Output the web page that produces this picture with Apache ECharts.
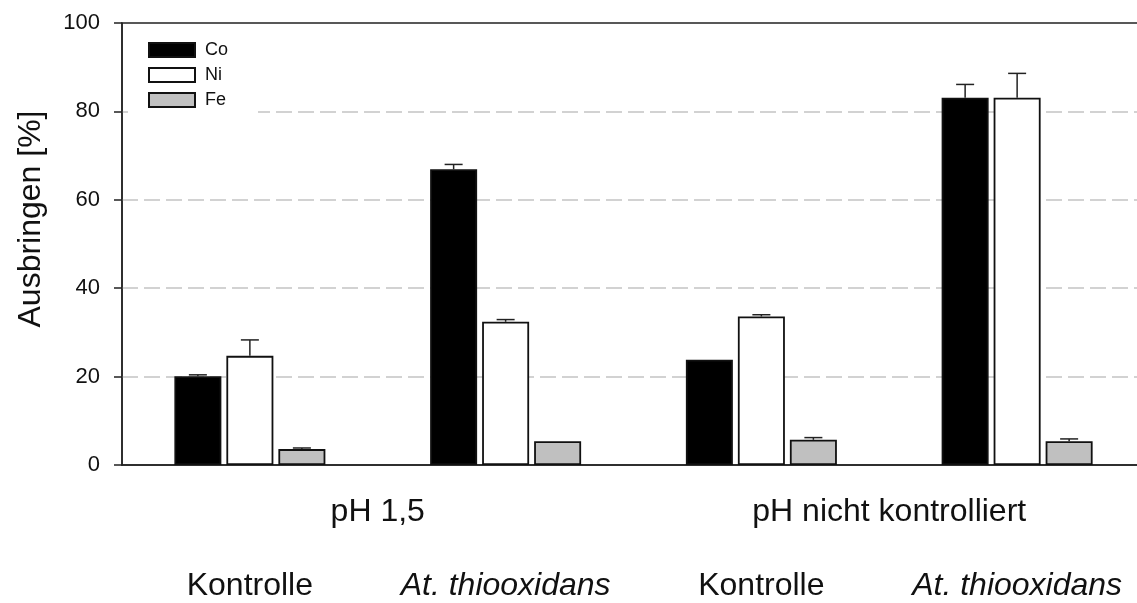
<!DOCTYPE html>
<html>
<head>
<meta charset="utf-8">
<script src="https://cdn.jsdelivr.net/npm/echarts@6/dist/echarts.min.js"></script>
<style>html,body{margin:0;padding:0;background:#fff;}#c{width:1137px;height:603px;}</style>
</head>
<body>
<div id="c"></div>
<script>
// ---- data ----
const categories = ['Kontrolle', 'At. thiooxidans', 'Kontrolle', 'At. thiooxidans'];
const groups = ['pH 1,5', 'pH nicht kontrolliert'];
const seriesNames = ['Co', 'Ni', 'Fe'];
const coValues = [20.1, 66.9, 23.8, 83.1];
const niValues = [24.7, 32.4, 33.6, 83.1];
const feValues = [3.6, 5.4, 5.7, 5.4];
const coErrors = [0.3, 1.1, 0, 3.0];
const niErrors = [3.6, 0.5, 0.4, 5.5];
const feErrors = [0.25, 0, 0.5, 0.5];
const yTitle = 'Ausbringen [%]';

// ---- style ----
const FONT = '"Liberation Sans", Arial, sans-serif';
const BAR_W = 47, BAR_GAP = 5;
const values = [coValues, niValues, feValues];
const errors = [coErrors, niErrors, feErrors];
const fills = ['#000000', '#ffffff', '#c0c0c0'];

const errData = [];
values.forEach((arr, s) => arr.forEach((v, i) => errData.push([i, v, errors[s][i], s])));

const chart = echarts.init(document.getElementById('c'), null, {renderer: 'canvas'});
chart.setOption({
  animation: false,
  backgroundColor: '#ffffff',
  textStyle: {fontFamily: FONT, color: '#111'},
  grid: {left: 122, top: 23, width: 1023, height: 442, outerBoundsMode: 'none', containLabel: false,
         show: true, borderColor: '#222', borderWidth: 1.5, backgroundColor: 'transparent'},
  legend: {
    data: seriesNames, orient: 'vertical', left: 128, top: 31,
    icon: 'rect', itemWidth: 46, itemHeight: 14, itemGap: 7,
    textStyle: {fontSize: 18, fontFamily: FONT, color: '#111', padding: [0, 0, 0, 5]},
    backgroundColor: '#ffffff', padding: [10, 30, 10, 20]
  },
  graphic: [{
    type: 'text', x: 31, y: 219, rotation: Math.PI / 2,
    style: {text: yTitle, font: '32px ' + FONT, fill: '#111', align: 'center', verticalAlign: 'middle'}
  }],
  xAxis: [{
    type: 'category', data: categories, position: 'bottom',
    axisLine: {lineStyle: {color: '#222', width: 1.5}},
    axisTick: {alignWithLabel: true, length: 8, lineStyle: {color: '#222', width: 1.5}},
    axisLabel: {
      interval: 0, margin: 105, fontSize: 32, fontFamily: FONT, color: '#111',
      formatter: v => v.indexOf('At.') === 0 ? '{i|' + v + '}' : v,
      rich: {i: {fontStyle: 'italic', fontSize: 32, fontFamily: FONT, color: '#111'}}
    },
    splitLine: {show: false}
  }, {
    type: 'category', data: groups, position: 'bottom',
    axisLine: {show: false}, axisTick: {show: false}, splitLine: {show: false},
    axisLabel: {interval: 0, margin: 31, fontSize: 32, fontFamily: FONT, color: '#111'}
  }],
  yAxis: {
    type: 'value', min: 0, max: 100, interval: 20,
    axisLine: {show: true, lineStyle: {color: '#222', width: 1.5}},
    axisTick: {show: true, length: 8, lineStyle: {color: '#222', width: 1.5}},
    axisLabel: {fontSize: 22, fontFamily: FONT, color: '#111', margin: 22},
    splitLine: {show: true, showMinLine: false, showMaxLine: false,
                lineStyle: {color: '#c4c4c4', width: 1.5, type: [16, 6]}}
  },
  series: seriesNames.map((n, s) => ({
    name: n, type: 'bar', data: values[s], barWidth: BAR_W, barGap: (BAR_GAP / BAR_W * 100) + '%',
    itemStyle: {color: fills[s], borderColor: '#111', borderWidth: 1.8}
  })).concat([{
    name: 'err', type: 'custom', data: errData, z: 5,
    encode: {x: 0, y: 1},
    renderItem: (params, api) => {
      const idx = api.value(0), v = api.value(1), e = api.value(2), s = api.value(3);
      if (!(e > 0)) return null;
      const off = (s - 1) * (BAR_W + BAR_GAP);
      const p0 = api.coord([idx, v]);
      const p1 = api.coord([idx, v + e]);
      const x = p0[0] + off;
      const st = {stroke: '#222', lineWidth: 1.5};
      return {type: 'group', children: [
        {type: 'line', shape: {x1: x, y1: p0[1], x2: x, y2: p1[1]}, style: st},
        {type: 'line', shape: {x1: x - 9, y1: p1[1], x2: x + 9, y2: p1[1]}, style: st}
      ]};
    }
  }])
});
</script>
</body>
</html>
